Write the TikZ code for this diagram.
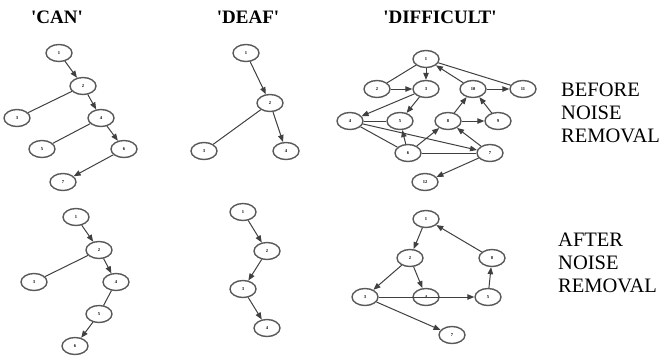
\documentclass[tikz,border=0pt]{standalone}
\usepackage{fontspec}
\setmainfont{Liberation Serif}
\usetikzlibrary{shapes.geometric,arrows.meta}
\newcommand{\sq}{\textquotesingle}
\begin{document}
\begin{tikzpicture}[x=1pt,y=-1pt,
  vert/.style={ellipse,draw=black!65,line width=1.4pt,minimum width=26pt,minimum height=17pt,
    inner sep=0pt,font=\fontsize{4.5}{5}\selectfont\bfseries},
  arc/.style={draw=black!75,line width=1pt,-{Triangle[length=7pt,width=5.5pt]}},
  link/.style={draw=black!75,line width=1pt},
  ttl/.style={font=\fontsize{19}{20}\selectfont\bfseries,inner sep=0pt},
  side/.style={font=\fontsize{20.5}{23}\selectfont,align=left,anchor=north west,inner sep=0pt}]
\useasboundingbox (0,0) rectangle (667,360);

% column titles
\node[ttl] (tcan) at (57,17) {\sq CAN\sq};
\node[ttl] (tdeaf) at (248,17) {\sq DEAF\sq};
\node[ttl] (tdiff) at (440,17) {\sq DIFFICULT\sq};

% row labels
\node[side] (before) at (561,83) {BEFORE\\NOISE\\REMOVAL};
\node[side] (after) at (558,233) {AFTER\\NOISE\\REMOVAL};

% CAN, before
\node[vert] (c1) at (59,53) {1};
\node[vert] (c2) at (83,86) {2};
\node[vert] (c3) at (17,118) {3};
\node[vert] (c4) at (101,118) {4};
\node[vert] (c5) at (42,149) {5};
\node[vert] (c6) at (124,149) {6};
\node[vert] (c7) at (63,182) {7};
\draw[arc] (c1) -- (c2);
\draw[link] (c2) -- (c3);
\draw[arc] (c2) -- (c4);
\draw[link] (c4) -- (c5);
\draw[arc] (c4) -- (c6);
\draw[arc] (c6) -- (c7);

% DEAF, before
\node[vert] (d1) at (246,53) {1};
\node[vert] (d2) at (270,103) {2};
\node[vert] (d3) at (204,151) {3};
\node[vert] (d4) at (286,151) {4};
\draw[arc] (d1) -- (d2);
\draw[link] (d2) -- (d3);
\draw[arc] (d2) -- (d4);

% DIFFICULT, before
\node[vert] (f1) at (426,59) {1};
\node[vert] (f2) at (377,89) {2};
\node[vert] (f3) at (426,89) {3};
\node[vert] (f10) at (473,89) {10};
\node[vert] (f11) at (523,89) {11};
\node[vert] (f4) at (350,121) {4};
\node[vert] (f5) at (400,121) {5};
\node[vert] (f8) at (448,121) {8};
\node[vert] (f9) at (498,121) {9};
\node[vert] (f6) at (408,153) {6};
\node[vert] (f7) at (490,153) {7};
\node[vert] (f12) at (425,182) {12};
\draw[arc] (f1) -- (f3);
\draw[link] (f2) -- (f1);
\draw[arc] (f2) -- (f3);
\draw[arc] (f10) -- (f1);
\draw[link] (f1) -- (f11);
\draw[arc] (f10) -- (f11);
\draw[arc] (f3) -- (f4);
\draw[arc] (f3) -- (f5);
\draw[link] (f4) -- (f5);
\draw[link] (f4) -- (f6);
\draw[arc] (f4) -- (f7);
\draw[arc] (f6) -- (f5);
\draw[arc] (f6) -- (f8);
\draw[link] (f6) -- (f7);
\draw[arc] (f8) -- (f10);
\draw[arc] (f8) -- (f9);
\draw[arc] (f9) -- (f10);
\draw[arc] (f7) -- (f8);
\draw[arc] (f7) -- (f12);

% CAN, after
\node[vert] (a1) at (76,217) {1};
\node[vert] (a2) at (99,250) {2};
\node[vert] (a3) at (34,282) {3};
\node[vert] (a4) at (116,282) {4};
\node[vert] (a5) at (99,314) {5};
\node[vert] (a6) at (75,346) {6};
\draw[arc] (a1) -- (a2);
\draw[link] (a2) -- (a3);
\draw[arc] (a2) -- (a4);
\draw[link] (a4) -- (a5);
\draw[arc] (a5) -- (a6);

% DEAF, after
\node[vert] (e1) at (243,212) {1};
\node[vert] (e2) at (267,251) {2};
\node[vert] (e3) at (243,289) {3};
\node[vert] (e4) at (267,328) {4};
\draw[arc] (e1) -- (e2);
\draw[arc] (e2) -- (e3);
\draw[arc] (e3) -- (e4);

% DIFFICULT, after
\node[vert] (g1) at (426,219) {1};
\node[vert] (g2) at (410,258) {2};
\node[vert] (g3) at (365,297) {3};
\node[vert] (g4) at (426,297) {4};
\node[vert] (g5) at (488,297) {5};
\node[vert] (g8) at (492,258) {8};
\node[vert] (g7) at (452,335) {7};
\draw[arc] (g1) -- (g2);
\draw[arc] (g2) -- (g3);
\draw[arc] (g2) -- (g4);
\draw[arc] (g3) -- (g5);
\draw[arc] (g3) -- (g7);
\draw[arc] (g5) -- (g8);
\draw[arc] (g8) -- (g1);
\end{tikzpicture}
\end{document}
